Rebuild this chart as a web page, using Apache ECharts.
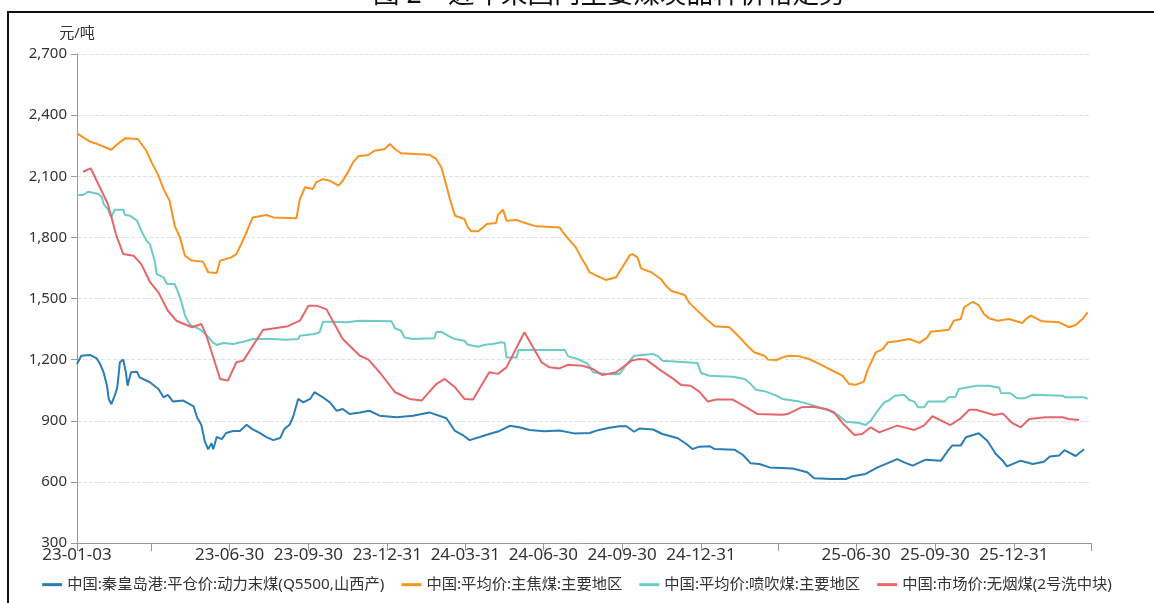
<!DOCTYPE html>
<html>
<head>
<meta charset="utf-8">
<script src="https://cdn.jsdelivr.net/npm/echarts@6/dist/echarts.min.js"></script>
<style>
html,body{margin:0;padding:0;background:#fff;}
#chart{width:1154px;height:603px;}
</style>
</head>
<body>
<div id="chart"></div>
<script>
// ---------- DATA ----------
const titleText = '图 2　近年来国内主要煤炭品种价格走势';
const unitName = '元/吨';
const seriesNames = [
  '中国:秦皇岛港:平仓价:动力末煤(Q5500,山西产)',
  '中国:平均价:主焦煤:主要地区',
  '中国:平均价:喷吹煤:主要地区',
  '中国:市场价:无烟煤(2号洗中块)'
];
const xMin = '2023-01-03';
const xMax = '2026-03-31';
const tickDates = ['2023-01-03','2023-03-31','2023-06-30','2023-09-30','2023-12-31','2024-03-31','2024-06-30','2024-09-30','2024-12-31','2025-03-31','2025-06-30','2025-09-30','2025-12-31','2026-03-31'];
const labelDates = ['2023-01-03','2023-06-30','2023-09-30','2023-12-31','2024-03-31','2024-06-30','2024-09-30','2024-12-31','2025-06-30','2025-09-30','2025-12-31'];
const yMin = 300, yMax = 2700, yStep = 300;

// 动力末煤 (Q5500, 山西产) - 秦皇岛港平仓价
const thermalDates = ['2023-01-03','2023-01-08','2023-01-18','2023-01-26','2023-01-30','2023-02-03','2023-02-07','2023-02-09','2023-02-12','2023-02-16','2023-02-19','2023-02-22','2023-02-26','2023-03-01','2023-03-03','2023-03-05','2023-03-07','2023-03-14','2023-03-17','2023-03-29','2023-04-08','2023-04-14','2023-04-19','2023-04-25','2023-05-07','2023-05-19','2023-05-23','2023-05-28','2023-06-01','2023-06-05','2023-06-09','2023-06-11','2023-06-15','2023-06-21','2023-06-26','2023-07-04','2023-07-12','2023-07-20','2023-07-26','2023-08-04','2023-08-12','2023-08-20','2023-08-28','2023-09-02','2023-09-08','2023-09-12','2023-09-18','2023-09-24','2023-10-02','2023-10-07','2023-10-15','2023-10-25','2023-11-02','2023-11-09','2023-11-17','2023-11-29','2023-12-10','2023-12-22','2024-01-11','2024-01-30','2024-02-18','2024-03-09','2024-03-19','2024-03-28','2024-04-05','2024-04-17','2024-04-28','2024-05-10','2024-05-22','2024-06-02','2024-06-14','2024-07-01','2024-07-19','2024-08-05','2024-08-23','2024-09-03','2024-09-15','2024-09-27','2024-10-05','2024-10-14','2024-10-20','2024-11-05','2024-11-16','2024-12-04','2024-12-14','2024-12-21','2024-12-29','2025-01-10','2025-01-16','2025-02-08','2025-02-18','2025-02-27','2025-03-09','2025-03-21','2025-04-17','2025-05-04','2025-05-12','2025-06-02','2025-06-18','2025-06-26','2025-07-11','2025-07-25','2025-08-08','2025-08-17','2025-08-25','2025-09-04','2025-09-19','2025-10-07','2025-10-15','2025-10-20','2025-10-30','2025-11-05','2025-11-20','2025-11-30','2025-12-10','2025-12-18','2025-12-23','2026-01-08','2026-01-22','2026-02-04','2026-02-11','2026-02-22','2026-02-28','2026-03-13','2026-03-23'];
const thermalValues = [1178,1219,1223,1206,1178,1138,1072,1007,982,1023,1064,1187,1200,1138,1072,1072,1138,1141,1113,1089,1056,1015,1027,994,999,971,917,880,800,760,790,760,820,810,840,850,850,880,860,840,820,805,815,860,880,917,1007,990,1007,1040,1020,990,949,958,933,941,949,925,917,925,941,912,850,830,805,820,835,850,875,868,855,848,852,838,840,855,866,873,873,846,862,857,835,814,786,761,773,775,761,758,732,691,688,671,666,647,618,614,614,628,639,671,696,712,696,680,709,704,753,778,778,819,839,802,737,704,676,704,688,699,725,730,756,727,760];

// 主焦煤 平均价
const cokingDates = ['2023-01-03','2023-01-18','2023-01-27','2023-02-12','2023-02-18','2023-02-28','2023-03-15','2023-03-25','2023-03-31','2023-04-08','2023-04-14','2023-04-21','2023-04-27','2023-05-03','2023-05-09','2023-05-17','2023-05-30','2023-06-05','2023-06-15','2023-06-19','2023-07-02','2023-07-08','2023-07-18','2023-07-27','2023-08-12','2023-08-20','2023-09-16','2023-09-20','2023-09-26','2023-10-05','2023-10-09','2023-10-17','2023-10-25','2023-11-04','2023-11-09','2023-11-15','2023-11-21','2023-11-27','2023-12-09','2023-12-16','2023-12-28','2024-01-03','2024-01-09','2024-01-16','2024-02-18','2024-02-26','2024-03-03','2024-03-09','2024-03-13','2024-03-19','2024-03-30','2024-04-03','2024-04-07','2024-04-15','2024-04-21','2024-04-25','2024-05-06','2024-05-08','2024-05-14','2024-05-18','2024-05-31','2024-06-06','2024-06-22','2024-07-19','2024-07-23','2024-07-31','2024-08-07','2024-08-13','2024-08-19','2024-08-23','2024-08-31','2024-09-11','2024-09-23','2024-09-29','2024-10-09','2024-10-12','2024-10-18','2024-10-22','2024-11-03','2024-11-14','2024-11-20','2024-11-26','2024-12-12','2024-12-17','2024-12-25','2025-01-06','2025-01-16','2025-02-02','2025-02-08','2025-02-16','2025-02-22','2025-03-03','2025-03-15','2025-03-19','2025-03-29','2025-04-05','2025-04-13','2025-04-25','2025-05-06','2025-05-18','2025-05-26','2025-06-06','2025-06-14','2025-06-22','2025-06-30','2025-07-09','2025-07-13','2025-07-23','2025-07-31','2025-08-06','2025-08-17','2025-08-31','2025-09-12','2025-09-21','2025-09-25','2025-10-16','2025-10-22','2025-10-30','2025-11-03','2025-11-13','2025-11-20','2025-11-26','2025-12-02','2025-12-12','2025-12-25','2026-01-10','2026-01-14','2026-01-20','2026-02-02','2026-02-22','2026-03-05','2026-03-13','2026-03-21','2026-03-27'];
const cokingValues = [2310,2270,2258,2230,2253,2286,2283,2225,2168,2103,2037,1980,1857,1800,1710,1686,1681,1629,1625,1686,1702,1718,1808,1898,1910,1898,1894,1988,2046,2037,2070,2086,2078,2054,2078,2119,2168,2198,2204,2225,2234,2258,2234,2213,2206,2185,2144,2054,1988,1906,1890,1849,1830,1830,1849,1866,1871,1910,1936,1882,1885,1874,1854,1849,1825,1784,1751,1702,1661,1629,1612,1591,1604,1645,1713,1718,1702,1648,1629,1596,1563,1538,1517,1481,1448,1399,1364,1359,1334,1301,1272,1236,1219,1200,1198,1211,1219,1216,1203,1179,1162,1138,1121,1080,1077,1092,1146,1236,1252,1285,1290,1301,1282,1309,1337,1347,1391,1399,1457,1484,1468,1424,1403,1391,1399,1380,1399,1416,1388,1383,1359,1370,1399,1432];

// 喷吹煤 平均价
const pciDates = ['2023-01-03','2023-01-10','2023-01-16','2023-01-28','2023-02-01','2023-02-03','2023-02-08','2023-02-12','2023-02-16','2023-02-26','2023-02-28','2023-03-06','2023-03-14','2023-03-19','2023-03-25','2023-03-29','2023-04-04','2023-04-06','2023-04-14','2023-04-18','2023-04-27','2023-05-01','2023-05-05','2023-05-09','2023-05-15','2023-05-26','2023-06-03','2023-06-11','2023-06-15','2023-06-23','2023-07-04','2023-07-16','2023-07-27','2023-08-20','2023-09-04','2023-09-18','2023-09-20','2023-10-07','2023-10-13','2023-10-17','2023-10-29','2023-11-13','2023-11-29','2024-01-05','2024-01-09','2024-01-16','2024-01-20','2024-01-30','2024-02-24','2024-02-26','2024-03-03','2024-03-11','2024-03-19','2024-03-30','2024-04-03','2024-04-15','2024-04-23','2024-05-02','2024-05-12','2024-05-16','2024-05-18','2024-05-30','2024-06-01','2024-07-25','2024-07-29','2024-08-09','2024-08-21','2024-08-27','2024-09-11','2024-09-27','2024-10-04','2024-10-14','2024-11-05','2024-11-11','2024-11-16','2024-12-27','2024-12-31','2025-01-10','2025-02-06','2025-02-20','2025-02-27','2025-03-05','2025-03-17','2025-03-29','2025-04-05','2025-04-25','2025-05-08','2025-05-30','2025-06-10','2025-06-18','2025-07-04','2025-07-11','2025-07-17','2025-07-25','2025-08-02','2025-08-08','2025-08-14','2025-08-25','2025-08-31','2025-09-06','2025-09-10','2025-09-17','2025-09-22','2025-10-11','2025-10-16','2025-10-24','2025-10-28','2025-11-17','2025-12-02','2025-12-14','2025-12-16','2025-12-27','2026-01-04','2026-01-12','2026-01-22','2026-02-26','2026-03-01','2026-03-23','2026-03-27'];
const pciValues = [2008,2008,2024,2013,1997,1964,1939,1898,1936,1936,1910,1906,1882,1833,1784,1767,1678,1620,1604,1571,1571,1530,1481,1416,1370,1350,1321,1282,1272,1282,1277,1288,1301,1301,1298,1301,1317,1326,1334,1386,1386,1383,1391,1388,1354,1342,1309,1301,1305,1334,1337,1317,1301,1293,1273,1263,1273,1277,1285,1282,1211,1211,1247,1247,1216,1203,1179,1138,1130,1130,1170,1219,1228,1216,1195,1184,1134,1121,1116,1105,1080,1052,1043,1023,1007,994,979,949,925,895,889,879,900,949,991,1002,1023,1027,1002,994,966,966,994,994,1015,1018,1056,1072,1072,1062,1036,1035,1010,1010,1027,1023,1015,1015,1007];

// 无烟煤 (2号洗中块) 市场价
const anthDates = ['2023-01-10','2023-01-19','2023-02-08','2023-02-18','2023-02-26','2023-03-10','2023-03-19','2023-03-29','2023-04-08','2023-04-19','2023-04-29','2023-05-17','2023-05-28','2023-06-03','2023-06-19','2023-06-28','2023-07-08','2023-07-16','2023-08-08','2023-09-06','2023-09-20','2023-09-30','2023-10-09','2023-10-21','2023-10-25','2023-11-09','2023-11-17','2023-11-29','2023-12-09','2023-12-22','2024-01-09','2024-01-26','2024-02-09','2024-02-26','2024-03-07','2024-03-19','2024-03-30','2024-04-09','2024-04-28','2024-05-08','2024-05-18','2024-06-08','2024-06-28','2024-07-07','2024-07-19','2024-07-29','2024-08-15','2024-08-27','2024-09-07','2024-09-23','2024-10-11','2024-10-20','2024-10-28','2024-11-16','2024-11-28','2024-12-08','2024-12-19','2024-12-29','2025-01-08','2025-01-18','2025-02-06','2025-02-20','2025-03-07','2025-04-05','2025-04-11','2025-04-27','2025-05-10','2025-05-26','2025-06-04','2025-06-14','2025-06-28','2025-07-07','2025-07-17','2025-07-27','2025-08-06','2025-08-17','2025-09-06','2025-09-17','2025-09-27','2025-10-18','2025-10-30','2025-11-09','2025-11-17','2025-12-08','2025-12-18','2025-12-29','2026-01-08','2026-01-18','2026-02-06','2026-02-26','2026-03-05','2026-03-17'];
const anthValues = [2122,2139,1964,1808,1718,1710,1669,1582,1530,1440,1391,1359,1375,1317,1105,1097,1187,1195,1345,1364,1391,1465,1465,1448,1416,1301,1268,1219,1200,1138,1040,1007,999,1080,1105,1064,1007,1004,1138,1130,1162,1334,1187,1162,1157,1175,1170,1154,1124,1138,1195,1203,1200,1141,1108,1075,1072,1043,994,1004,1004,971,933,930,933,966,969,958,942,889,830,835,868,843,859,876,855,876,922,879,912,954,954,928,936,889,868,909,917,917,909,904];

// ---------- STYLE ----------
const colors = ['#2a7db5', '#f7941f', '#6ccbc7', '#e5676a'];
const FONT = '"Noto Sans", "Noto Sans CJK SC", sans-serif';

function ts(s) { const p = s.split('-').map(Number); return Date.UTC(p[0], p[1] - 1, p[2]); }
function pad(n) { return n < 10 ? '0' + n : '' + n; }
function fmtDate(v) { const d = new Date(v); return pad(d.getUTCFullYear() % 100) + '-' + pad(d.getUTCMonth() + 1) + '-' + pad(d.getUTCDate()); }
function zip(dates, vals) { return dates.map((d, i) => [ts(d), vals[i]]); }

const seriesData = [
  zip(thermalDates, thermalValues),
  zip(cokingDates, cokingValues),
  zip(pciDates, pciValues),
  zip(anthDates, anthValues)
];

const chart = echarts.init(document.getElementById('chart'), null, { renderer: 'canvas' });
chart.setOption({
  animation: false,
  backgroundColor: '#ffffff',
  textStyle: { fontFamily: FONT },
  color: colors,
  title: {
    text: titleText,
    left: 373,
    top: -18,
    padding: 0,
    textStyle: { fontSize: 26.5, fontWeight: 'normal', color: '#111', fontFamily: FONT }
  },
  graphic: [{
    type: 'rect', silent: true, z: 100,
    shape: { x: 8, y: 12, width: 1300, height: 800 },
    style: { fill: 'none', stroke: '#111', lineWidth: 2 }
  }],
  grid: { left: 77, right: 63, top: 54, bottom: 60 },
  legend: {
    data: seriesNames.map((n, i) => ({ name: n, icon: 'rect', itemStyle: { color: colors[i] } })),
    left: 'center',
    top: 577,
    itemGap: 17,
    itemWidth: 20,
    itemHeight: 3,
    padding: 0,
    textStyle: { fontSize: 15.3, color: '#333', fontFamily: FONT }
  },
  xAxis: {
    type: 'value',
    min: ts(xMin),
    max: ts(xMax),
    axisLine: { show: true, lineStyle: { color: '#9a9a9a', width: 1 } },
    axisTick: { show: true, length: 8, lineStyle: { color: '#9a9a9a' }, customValues: tickDates.map(ts) },
    axisLabel: { customValues: labelDates.map(ts), formatter: fmtDate, fontSize: 17, color: '#333', margin: 4 },
    splitLine: { show: false }
  },
  yAxis: {
    type: 'value',
    min: yMin, max: yMax, interval: yStep,
    name: unitName,
    nameLocation: 'end',
    nameGap: 13,
    nameTextStyle: { fontSize: 15, color: '#333', align: 'center', fontFamily: FONT },
    axisLine: { show: true, lineStyle: { color: '#9a9a9a' } },
    axisTick: { show: true, length: 6, lineStyle: { color: '#9a9a9a' } },
    axisLabel: { fontSize: 15, color: '#333', margin: 10, formatter: v => v.toLocaleString('en-US') },
    splitLine: { show: true, lineStyle: { type: 'dashed', color: '#e2e2e2' } }
  },
  series: seriesNames.map((n, i) => ({
    name: n,
    type: 'line',
    data: seriesData[i],
    symbol: 'none',
    showSymbol: false,
    lineStyle: { width: 2, color: colors[i] },
    itemStyle: { color: colors[i] },
    z: [2, 3, 4, 5][i]
  }))
});
</script>
</body>
</html>
